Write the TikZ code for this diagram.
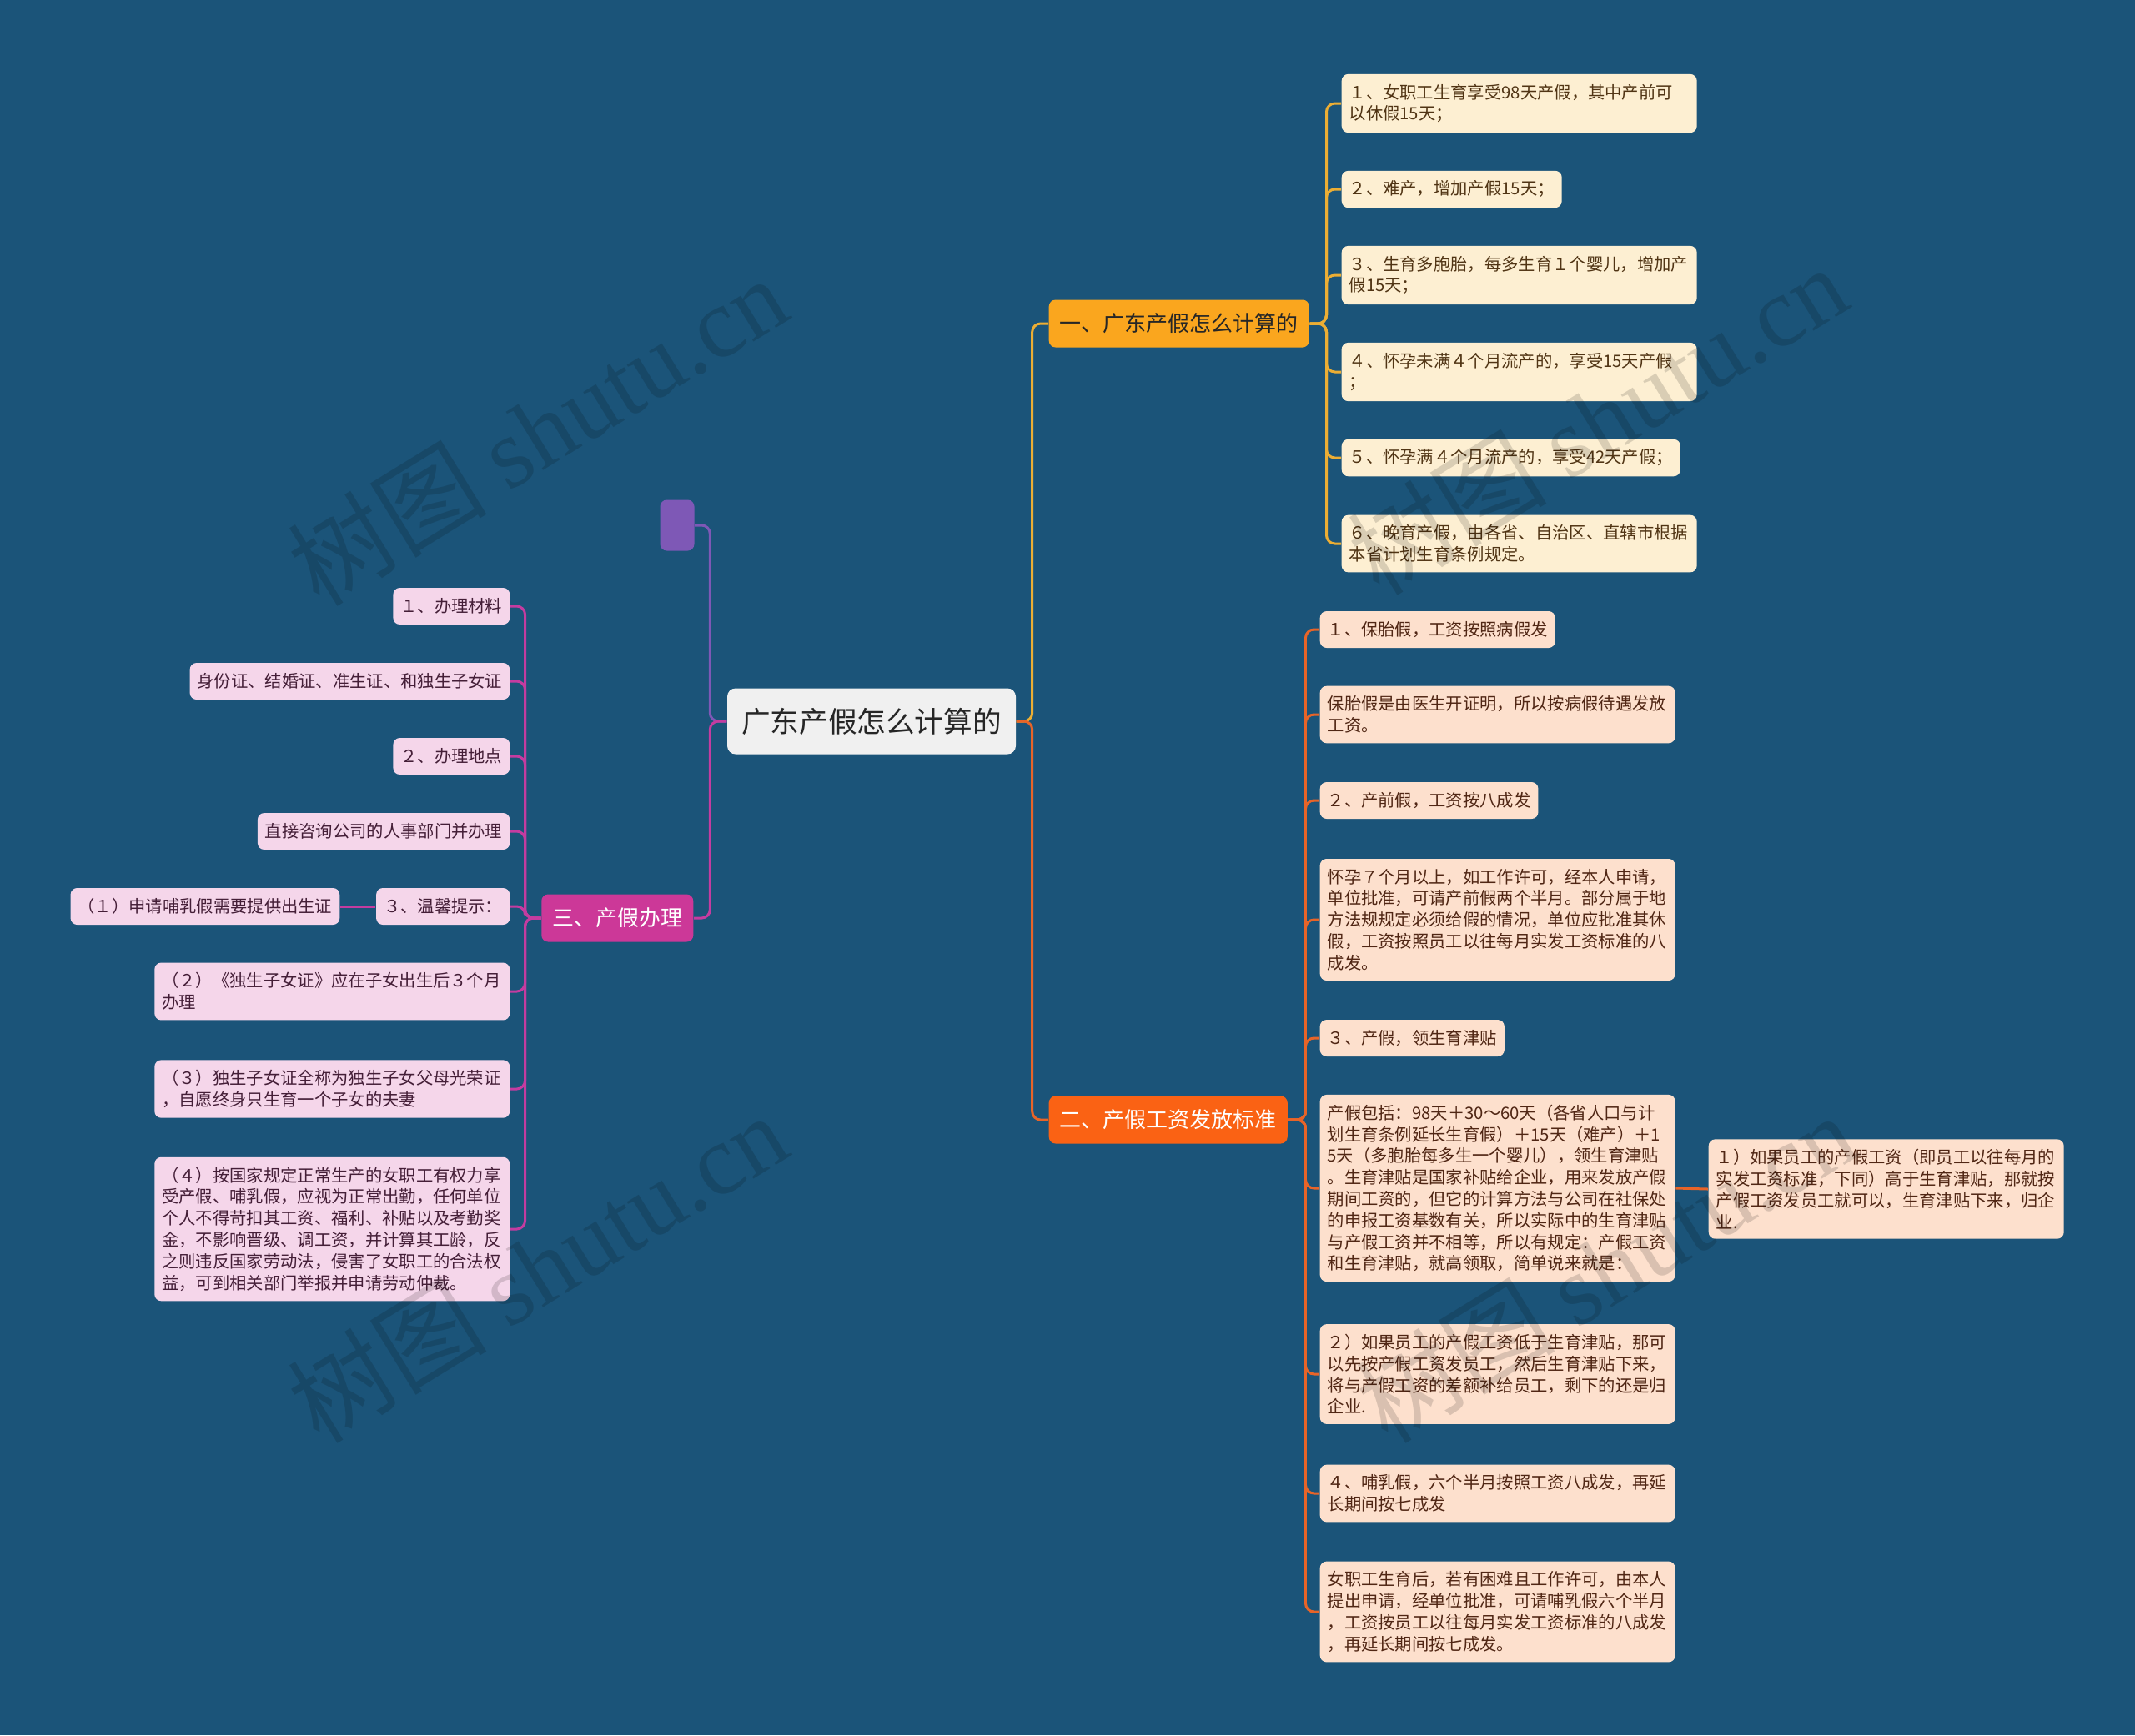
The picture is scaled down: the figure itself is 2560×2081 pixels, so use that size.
\documentclass[tikz,border=0pt]{standalone}
\usepackage{fontspec}
\setmainfont{Noto Sans CJK SC}
\newfontfamily\wmfont{Liberation Serif}
\usetikzlibrary{positioning}
\definecolor{bgblue}{RGB}{27,84,121}
\definecolor{rootfill}{RGB}{240,240,240}
\definecolor{onefill}{RGB}{250,166,30}
\definecolor{twofill}{RGB}{250,98,20}
\definecolor{threefill}{RGB}{204,56,152}
\definecolor{blankfill}{RGB}{126,88,182}
\definecolor{onelight}{RGB}{253,239,210}
\definecolor{twolight}{RGB}{253,224,205}
\definecolor{threelight}{RGB}{245,214,234}
\definecolor{onetext}{RGB}{80,52,20}
\definecolor{twotext}{RGB}{80,38,20}
\definecolor{threetext}{RGB}{68,30,55}
\definecolor{oneline}{RGB}{236,174,52}
\definecolor{twoline}{RGB}{232,100,40}
\definecolor{threeline}{RGB}{196,60,160}
\newcommand{\leafsize}{\fontsize{5.78pt}{7.34pt}\selectfont}
\newcommand{\branchsize}{\fontsize{7.4pt}{9pt}\selectfont}
\newcommand{\wmark}[2]{
  \node[wmark] at (#1,#2) {树图 {\wmfont shutu.cn}};
}

\begin{document}
\begin{tikzpicture}[x=0.1mm,y=-0.1mm,
  box/.style={rounded corners=0.8mm,inner xsep=0.9mm,inner ysep=1.2mm,minimum height=4.4mm,font=\leafsize,align=left},
  wide/.style={text width=40.8mm},
  leafA/.style={box,fill=onelight,text=onetext},
  leafB/.style={box,fill=twolight,text=twotext},
  leafC/.style={box,fill=threelight,text=threetext},
  branch/.style={rounded corners=0.8mm,inner xsep=1.3mm,minimum height=5.7mm,font=\branchsize},
  linkA/.style={oneline,line width=0.3mm,rounded corners=1mm},
  linkB/.style={twoline,line width=0.3mm,rounded corners=1mm},
  linkC/.style={threeline,line width=0.3mm,rounded corners=1mm},
  linkP/.style={blankfill,line width=0.3mm,rounded corners=1mm},
  wmark/.style={rotate=31.6,font=\fontsize{34pt}{34pt}\selectfont,text=black,opacity=0.14}]
  \fill[bgblue] (0,0) rectangle (2560,2081);
  \useasboundingbox (0,0) rectangle (2560,2081);

  \node[fill=rootfill,text=black!85,rounded corners=1mm,minimum width=34.6mm,minimum height=7.9mm,font=\fontsize{9.85pt}{12pt}\selectfont] (root) at (1045,865) {广东产假怎么计算的};
  \node[fill=blankfill,rounded corners=0.8mm,minimum width=4.1mm,minimum height=6.1mm] (blank) at (812,630) {};
  \node[branch,fill=onefill,text=black!85,anchor=west] (one) at (1257,388) {一、广东产假怎么计算的};
  \node[branch,fill=twofill,text=white,anchor=west] (two) at (1257,1343) {二、产假工资发放标准};
  \node[branch,fill=threefill,text=white,anchor=east] (three) at (832,1101) {三、产假办理};

  \node[leafA,wide,anchor=west] (c1) at (1608,124) {１、女职工生育享受98天产假，其中产前可\\以休假15天；};
  \node[leafA,anchor=west] (c2) at (1608,227) {２、难产，增加产假15天；};
  \node[leafA,wide,anchor=west] (c3) at (1608,330) {３、生育多胞胎，每多生育１个婴儿，增加产\\假15天；};
  \node[leafA,wide,anchor=west] (c4) at (1608,446) {４、怀孕未满４个月流产的，享受15天产假\\；};
  \node[leafA,anchor=west] (c5) at (1608,549) {５、怀孕满４个月流产的，享受42天产假；};
  \node[leafA,wide,anchor=west] (c6) at (1608,652) {６、晚育产假，由各省、自治区、直辖市根据\\本省计划生育条例规定。};

  \node[leafB,anchor=west] (d1) at (1582,755) {１、保胎假，工资按照病假发};
  \node[leafB,wide,anchor=west] (d2) at (1582,857) {保胎假是由医生开证明，所以按病假待遇发放\\工资。};
  \node[leafB,anchor=west] (d3) at (1582,960) {２、产前假，工资按八成发};
  \node[leafB,wide,anchor=west] (d4) at (1582,1103) {怀孕７个月以上，如工作许可，经本人申请，\\单位批准，可请产前假两个半月。部分属于地\\方法规规定必须给假的情况，单位应批准其休\\假，工资按照员工以往每月实发工资标准的八\\成发。};
  \node[leafB,anchor=west] (d5) at (1582,1245) {３、产假，领生育津贴};
  \node[leafB,wide,anchor=west] (d6) at (1582,1425) {产假包括：98天＋30～60天（各省人口与计\\划生育条例延长生育假）＋15天（难产）＋1\\5天（多胞胎每多生一个婴儿），领生育津贴\\。生育津贴是国家补贴给企业，用来发放产假\\期间工资的，但它的计算方法与公司在社保处\\的申报工资基数有关，所以实际中的生育津贴\\与产假工资并不相等，所以有规定：产假工资\\和生育津贴，就高领取，简单说来就是：};
  \node[leafB,wide,anchor=west] (d7) at (1582,1648) {２）如果员工的产假工资低于生育津贴，那可\\以先按产假工资发员工，然后生育津贴下来，\\将与产假工资的差额补给员工，剩下的还是归\\企业.};
  \node[leafB,wide,anchor=west] (d8) at (1582,1791) {４、哺乳假，六个半月按照工资八成发，再延\\长期间按七成发};
  \node[leafB,wide,anchor=west] (d9) at (1582,1933) {女职工生育后，若有困难且工作许可，由本人\\提出申请，经单位批准，可请哺乳假六个半月\\，工资按员工以往每月实发工资标准的八成发\\，再延长期间按七成发。};
  \node[leafB,wide,anchor=west] (d61) at (2048,1426) {１）如果员工的产假工资（即员工以往每月的\\实发工资标准，下同）高于生育津贴，那就按\\产假工资发员工就可以，生育津贴下来，归企\\业.};

  \node[leafC,anchor=east] (e1) at (612,727) {１、办理材料};
  \node[leafC,anchor=east] (e2) at (612,817) {身份证、结婚证、准生证、和独生子女证};
  \node[leafC,anchor=east] (e3) at (612,907) {２、办理地点};
  \node[leafC,anchor=east] (e4) at (612,997) {直接咨询公司的人事部门并办理};
  \node[leafC,anchor=east] (e5) at (612,1087) {３、温馨提示：};
  \node[leafC,anchor=east] (e51) at (408,1087) {（１）申请哺乳假需要提供出生证};
  \node[leafC,wide,anchor=east] (e6) at (612,1189) {（２）《独生子女证》应在子女出生后３个月\\办理};
  \node[leafC,wide,anchor=east] (e7) at (612,1306) {（３）独生子女证全称为独生子女父母光荣证\\，自愿终身只生育一个子女的夫妻};
  \node[leafC,wide,anchor=east] (e8) at (612,1474) {（４）按国家规定正常生产的女职工有权力享\\受产假、哺乳假，应视为正常出勤，任何单位\\个人不得苛扣其工资、福利、补贴以及考勤奖\\金，不影响晋级、调工资，并计算其工龄，反\\之则违反国家劳动法，侵害了女职工的合法权\\益，可到相关部门举报并申请劳动仲裁。};

  \draw[linkA] (root.east) -- ++(19,0) |- (one.west);
  \draw[linkB] (root.east) -- ++(19,0) |- (two.west);
  \draw[linkP] (root.west) -- ++(-20,0) |- (blank.east);
  \draw[linkC] (root.west) -- ++(-20,0) |- (three.east);
  \foreach \n in {c1,c2,c3,c4,c5,c6}
    \draw[linkA] (one.east) -- ++(20,0) |- (\n.west);
  \foreach \n in {d1,d2,d3,d4,d5,d6,d7,d8,d9}
    \draw[linkB] (two.east) -- ++(21,0) |- (\n.west);
  \draw[linkB] (d6.east) -- (d61.west);
  \foreach \n in {e1,e2,e3,e4,e5,e6,e7,e8}
    \draw[linkC] (three.west) -- ++(-19,0) |- (\n.east);
  \draw[linkC] (e5.west) -- (e51.east);

  \wmark{644}{516}
  \wmark{644}{1520}
  \wmark{1915}{503}
  \wmark{1925}{1520}
\end{tikzpicture}
\end{document}
